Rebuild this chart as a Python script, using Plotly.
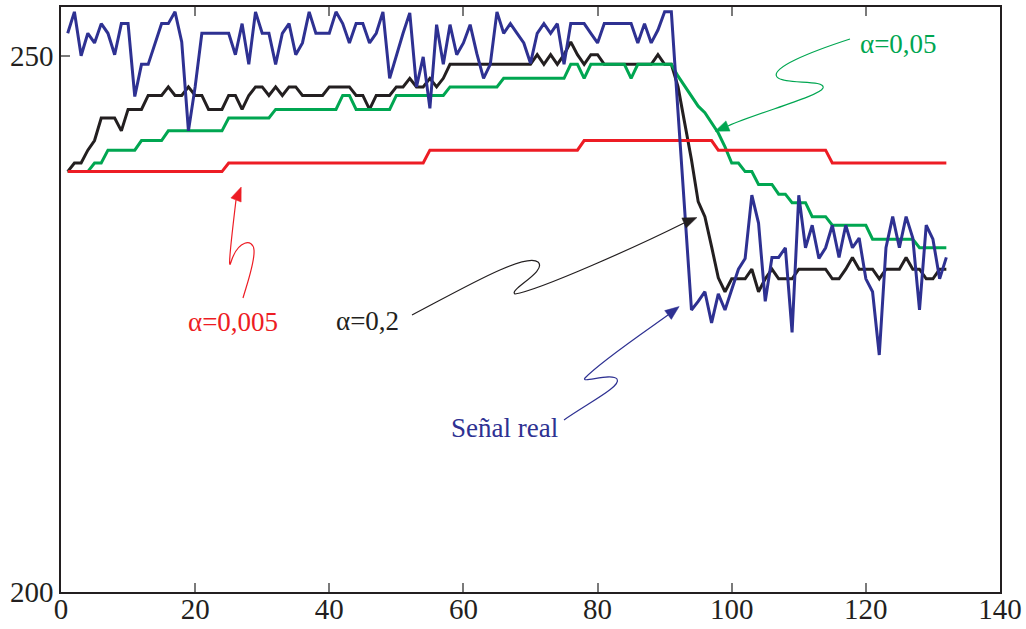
import plotly.graph_objects as go

# ---------------- data ----------------
muestras = list(range(1, 133))

senal_real = [
    252.1, 254.1, 250.0, 252.1, 251.2, 253.0, 252.1, 250.1, 253.0, 253.0,
    246.2, 249.2, 249.2, 251.2, 253.0, 253.0, 254.1, 251.3, 243.0, 247.1,
    252.1, 252.1, 252.1, 252.1, 252.1, 250.1, 253.0, 249.2, 254.1, 252.1,
    252.1, 249.2, 252.1, 253.0, 250.1, 251.2, 254.1, 252.1, 252.1, 252.1,
    254.1, 253.0, 251.2, 253.0, 253.0, 251.2, 252.1, 254.1, 247.9, 250.1,
    252.1, 254.0, 247.1, 249.9, 245.1, 252.9, 249.2, 252.9, 250.1, 251.2,
    252.9, 250.2, 247.9, 249.2, 254.1, 252.1, 253.0, 252.1, 251.2, 249.3,
    252.1, 253.0, 252.1, 253.0, 249.2, 253.0, 253.0, 253.0, 252.1, 251.2,
    253.0, 253.0, 253.0, 253.0, 253.0, 251.2, 253.0, 251.2, 252.4, 254.1,
    254.1, 244.7, 235.7, 226.3, 227.1, 228.0, 225.1, 227.8, 226.3, 228.2,
    230.1, 231.1, 237.0, 234.4, 227.1, 231.2, 231.2, 232.1, 224.2, 237.0,
    232.1, 234.2, 231.1, 232.1, 234.2, 231.2, 234.2, 232.1, 233.0, 229.2,
    228.0, 222.1, 232.1, 235.0, 232.1, 235.0, 233.0, 226.3, 234.2, 232.9,
    229.2, 231.2,
]

suav_a02 = [
    239.2, 240.0, 240.0, 241.2, 242.1, 244.2, 244.2, 244.2, 243.0, 245.0,
    245.0, 245.0, 246.3, 246.3, 246.3, 247.1, 246.3, 246.3, 247.1, 246.3,
    246.3, 245.0, 245.0, 245.0, 246.3, 246.3, 245.0, 246.3, 247.1, 247.1,
    246.3, 247.1, 246.3, 247.1, 247.1, 246.3, 246.3, 246.3, 246.3, 247.1,
    247.1, 247.1, 247.1, 246.3, 246.3, 245.0, 246.3, 246.3, 246.3, 247.1,
    247.1, 247.9, 247.1, 247.1, 247.9, 247.1, 247.9, 249.2, 249.2, 249.2,
    249.2, 249.2, 249.2, 249.2, 249.2, 249.2, 249.2, 249.2, 249.2, 249.2,
    250.1, 249.2, 250.1, 249.2, 250.1, 251.3, 250.1, 249.2, 250.1, 250.1,
    249.2, 249.2, 249.2, 249.2, 249.2, 249.2, 249.2, 249.2, 250.1, 249.2,
    249.2, 247.1, 243.7, 240.3, 236.4, 235.0, 232.2, 229.3, 228.0, 229.2,
    229.2, 229.2, 230.1, 228.0, 229.2, 230.1, 229.2, 229.2, 229.2, 230.1,
    230.1, 230.1, 230.1, 230.1, 229.2, 229.2, 230.1, 231.2, 230.1, 230.1,
    230.1, 229.2, 230.1, 230.1, 230.1, 231.2, 230.1, 230.1, 229.2, 229.2,
    230.1, 230.1,
]

suav_a005 = [
    239.2, 239.2, 239.2, 239.2, 240.0, 240.0, 241.2, 241.2, 241.2, 241.2,
    241.2, 242.1, 242.1, 242.1, 242.1, 243.0, 243.0, 243.0, 243.0, 243.0,
    243.0, 243.0, 243.0, 243.0, 244.2, 244.2, 244.2, 244.2, 244.2, 244.2,
    244.2, 245.0, 245.0, 245.0, 245.0, 245.0, 245.0, 245.0, 245.0, 245.0,
    245.0, 246.3, 246.3, 245.0, 245.0, 245.0, 245.0, 245.0, 245.0, 246.3,
    246.3, 246.3, 246.3, 246.3, 246.3, 246.3, 246.3, 247.1, 247.1, 247.1,
    247.1, 247.1, 247.1, 247.1, 247.1, 247.9, 247.9, 247.9, 247.9, 247.9,
    247.9, 247.9, 247.9, 247.9, 247.9, 249.2, 249.2, 247.9, 249.2, 249.2,
    249.2, 249.2, 249.2, 249.2, 247.9, 249.2, 249.2, 249.2, 249.2, 249.2,
    249.2, 248.1, 247.2, 246.3, 245.3, 244.7, 243.7, 242.8, 241.5, 240.0,
    240.0, 239.2, 239.2, 238.0, 238.0, 238.0, 237.1, 237.1, 236.3, 236.3,
    236.3, 235.0, 235.0, 235.0, 234.2, 234.2, 234.2, 234.2, 234.2, 234.2,
    232.9, 232.9, 232.9, 232.9, 232.9, 232.9, 232.9, 232.1, 232.1, 232.1,
    232.1, 232.1,
]

suav_a0005 = [
    239.2, 239.2, 239.2, 239.2, 239.2, 239.2, 239.2, 239.2, 239.2, 239.2,
    239.2, 239.2, 239.2, 239.2, 239.2, 239.2, 239.2, 239.2, 239.2, 239.2,
    239.2, 239.2, 239.2, 239.2, 240.0, 240.0, 240.0, 240.0, 240.0, 240.0,
    240.0, 240.0, 240.0, 240.0, 240.0, 240.0, 240.0, 240.0, 240.0, 240.0,
    240.0, 240.0, 240.0, 240.0, 240.0, 240.0, 240.0, 240.0, 240.0, 240.0,
    240.0, 240.0, 240.0, 240.0, 241.2, 241.2, 241.2, 241.2, 241.2, 241.2,
    241.2, 241.2, 241.2, 241.2, 241.2, 241.2, 241.2, 241.2, 241.2, 241.2,
    241.2, 241.2, 241.2, 241.2, 241.2, 241.2, 241.2, 242.1, 242.1, 242.1,
    242.1, 242.1, 242.1, 242.1, 242.1, 242.1, 242.1, 242.1, 242.1, 242.1,
    242.1, 242.1, 242.1, 242.1, 242.1, 242.1, 242.1, 241.2, 241.2, 241.2,
    241.2, 241.2, 241.2, 241.2, 241.2, 241.2, 241.2, 241.2, 241.2, 241.2,
    241.2, 241.2, 241.2, 241.2, 240.0, 240.0, 240.0, 240.0, 240.0, 240.0,
    240.0, 240.0, 240.0, 240.0, 240.0, 240.0, 240.0, 240.0, 240.0, 240.0,
    240.0, 240.0,
]

x_ticks = [0, 20, 40, 60, 80, 100, 120, 140]
y_ticks_left = [200, 250]
y_ticks_right = [200, 210.7, 221.3, 231.9, 250]

# ---------------- style ----------------
AZUL = "#2E3192"
NEGRO = "#231F20"
VERDE = "#00A651"
ROJO = "#ED1C24"
FUENTE = "Liberation Serif, Times New Roman, serif"

W, H = 1026, 629
M_L, M_R, M_T, M_B = 61, 26, 7, 37
X_RANGE = [0, 140]
Y_RANGE = [200, 254.55]


def a_datos(px, py):
    """Page pixel position -> data coordinates of the main axes."""
    pw = W - M_L - M_R
    ph = H - M_T - M_B
    x = X_RANGE[0] + (px - M_L) / pw * (X_RANGE[1] - X_RANGE[0])
    y = Y_RANGE[1] - (py - M_T) / ph * (Y_RANGE[1] - Y_RANGE[0])
    return x, y


def trazo(cmds):
    """Build an SVG path (data coords) from pixel-space commands."""
    partes = []
    for cmd, pts in cmds:
        coords = " ".join("%.4f,%.4f" % a_datos(px, py) for px, py in pts)
        partes.append(cmd + " " + coords)
    return " ".join(partes)


def punta(base, direc, largo=14, semi=5.5):
    """Filled arrow head whose base centre is `base`, pointing along `direc`."""
    dx, dy = direc
    n = (dx * dx + dy * dy) ** 0.5
    ux, uy = dx / n, dy / n
    tip = (base[0] + ux * largo, base[1] + uy * largo)
    b1 = (base[0] - uy * semi, base[1] + ux * semi)
    b2 = (base[0] + uy * semi, base[1] - ux * semi)
    return trazo([("M", [tip]), ("L", [b1]), ("L", [b2])]) + " Z"


fig = go.Figure()

for serie, color in [(suav_a02, NEGRO), (suav_a005, VERDE),
                     (suav_a0005, ROJO), (senal_real, AZUL)]:
    fig.add_trace(go.Scatter(
        x=muestras, y=serie, mode="lines",
        line=dict(color=color, width=3),
        hoverinfo="skip", showlegend=False,
    ))

# curved leader lines for the labels
flechas = [
    (ROJO, [("M", [(243, 298)]),
            ("C", [(247, 284), (255, 262), (254, 250)]),
            ("C", [(253, 238), (238, 240), (231, 262)]),
            ("C", [(228, 272), (230, 250), (236, 200)])],
     (236, 200), (0.4, -1)),
    (NEGRO, [("M", [(412, 315)]),
             ("C", [(460, 290), (525, 252), (538, 262)]),
             ("C", [(548, 271), (508, 290), (515, 294)]),
             ("C", [(540, 290), (640, 245), (684, 223)])],
     (684, 223), (169, -71)),
    (AZUL, [("M", [(564, 420)]),
            ("C", [(590, 402), (622, 386), (617, 379)]),
            ("C", [(612, 372), (580, 384), (585, 378)]),
            ("C", [(600, 362), (650, 328), (668, 315)])],
     (668, 315), (83, -63)),
    (VERDE, [("M", [(850, 39)]),
             ("C", [(810, 52), (770, 68), (777, 77)]),
             ("C", [(783, 85), (826, 79), (823, 88)]),
             ("C", [(820, 96), (760, 112), (728, 126)])],
     (728, 126), (-95, 38)),
]

shapes = []
for color, cmds, base, direc in flechas:
    shapes.append(dict(type="path", xref="x", yref="y", path=trazo(cmds),
                       line=dict(color=color, width=1.2), layer="above"))
    shapes.append(dict(type="path", xref="x", yref="y", path=punta(base, direc),
                       fillcolor=color, line=dict(color=color, width=0.5),
                       layer="above"))

etiquetas = [
    ("α=0,05", VERDE, (898, 44)),
    ("α=0,005", ROJO, (233, 322)),
    ("α=0,2", NEGRO, (367, 321)),
    ("Señal real", AZUL, (504, 428)),
]
annotations = []
for texto, color, (px, py) in etiquetas:
    x, y = a_datos(px, py)
    annotations.append(dict(x=x, y=y, xref="x", yref="y", text=texto,
                            showarrow=False, xanchor="center", yanchor="middle",
                            font=dict(family=FUENTE, size=27, color=color)))

eje = dict(
    showgrid=False, zeroline=False, showline=True, automargin=False,
    linecolor=NEGRO, linewidth=1.5,
    ticks="inside", ticklen=9, tickwidth=1.5, tickcolor="#7a7a7a",
    tickfont=dict(family=FUENTE, size=29, color=NEGRO),
)

fig.update_layout(
    width=W, height=H,
    margin=dict(l=M_L, r=M_R, t=M_T, b=M_B, autoexpand=False),
    paper_bgcolor="white", plot_bgcolor="white",
    showlegend=False,
    xaxis=dict(eje, range=X_RANGE, tickvals=x_ticks, mirror="ticks",
               ticklabelstandoff=-10),
    yaxis=dict(eje, range=Y_RANGE, tickvals=y_ticks_left, mirror=True),
    yaxis2=dict(overlaying="y", side="right", range=Y_RANGE,
                tickvals=y_ticks_right, ticks="inside", ticklen=9,
                tickwidth=1.5, tickcolor="#7a7a7a", showticklabels=False,
                showline=False, showgrid=False, zeroline=False,
                automargin=False),
    shapes=shapes,
    annotations=annotations,
)

fig.write_html("out.html")
